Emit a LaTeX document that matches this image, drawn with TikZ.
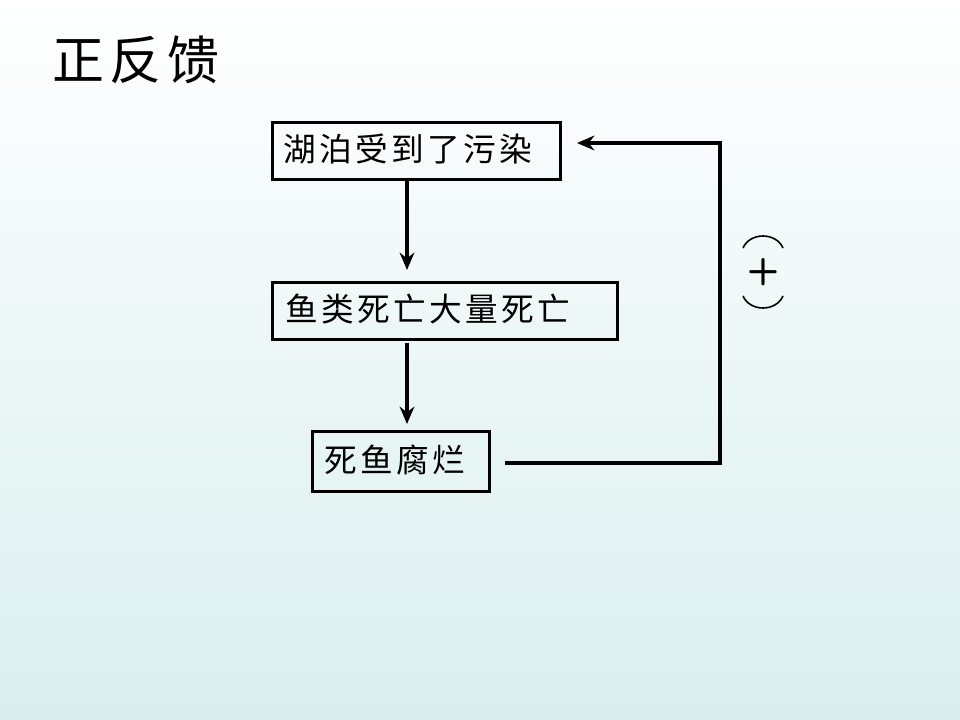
\documentclass[tikz,border=0pt]{standalone}
\usepackage{fontspec}
\usetikzlibrary{arrows.meta}
\newfontfamily\cjk[LetterSpace=10]{Noto Sans CJK SC}
\newfontfamily\cjkt[LetterSpace=10]{Noto Sans CJK SC}
\definecolor{bgb}{RGB}{218,238,238}
\begin{document}
\begin{tikzpicture}[x=0.75pt,y=-0.75pt,
  box/.style={draw=black,line width=2.2pt,anchor=north west,inner sep=0pt},
  lab/.style={anchor=west,font=\cjk\fontsize{24.5}{28}\selectfont},
  flow/.style={line width=3pt,-{Stealth[length=13pt,width=11pt]}}]
\shade[top color=white,bottom color=bgb] (0,0) rectangle (960,720);
\useasboundingbox (0,0) rectangle (960,720);
\node[anchor=west,font=\cjkt\fontsize{39}{42}\selectfont] (t) at (48,60) {正反馈};
\node[box,minimum width=288*0.75pt,minimum height=57*0.75pt] (a) at (271,121) {};
\node[lab] (ta) at (279,149) {湖泊受到了污染};
\node[box,minimum width=345*0.75pt,minimum height=57*0.75pt] (b) at (271,281) {};
\node[lab] (tb) at (281,309) {鱼类死亡大量死亡};
\node[box,minimum width=177*0.75pt,minimum height=60*0.75pt] (c) at (311,430) {};
\node[lab] (tc) at (320,460) {死鱼腐烂};
\coordinate (a1) at (407,270);
\coordinate (b0) at (407,343);
\coordinate (b1) at (407,424);
\coordinate (c0) at (505,463);
\coordinate (a0) at (577,143);
\draw[flow] (a.south -| a1) -- (a1);
\draw[flow] (b0) -- (b1);
\draw[flow] (c0) -- (720,463) -- (720,143) -- (a0);
\draw[line width=1.2pt] (743,248) .. controls (750,232) and (776,232) .. (783,248);
\draw[line width=1.2pt] (743,296) .. controls (750,312) and (776,312) .. (783,296);
\node[font=\sffamily\bfseries\fontsize{28}{30}\selectfont] (p) at (763,272) {+};
\end{tikzpicture}
\end{document}
